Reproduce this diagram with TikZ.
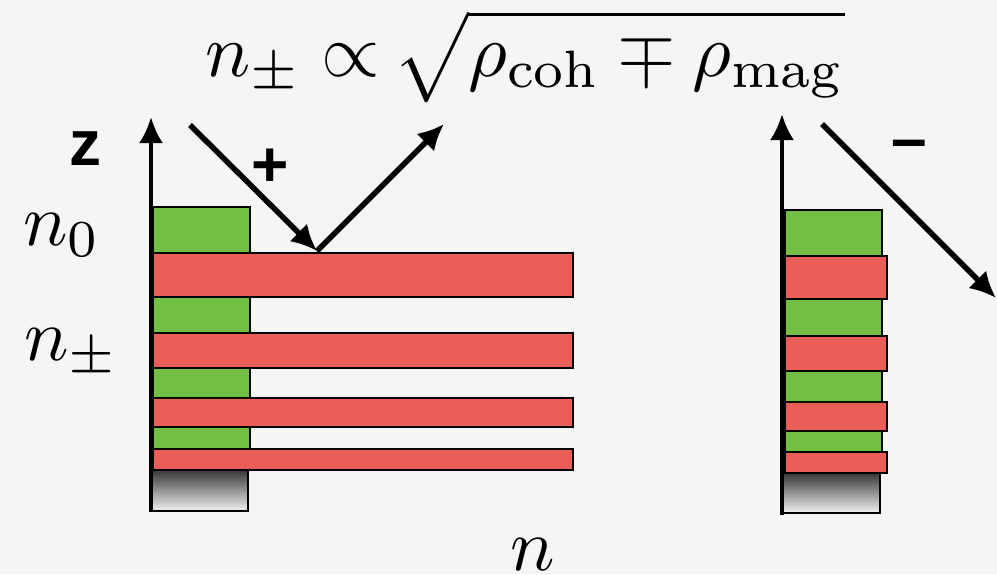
\documentclass[tikz,border=0pt]{standalone}
\usepackage{graphicx}
\usepackage{fontspec}
\newfontfamily\labfont{Liberation Sans}
\usetikzlibrary{arrows.meta}
\definecolor{bgc}{RGB}{245,245,245}
\definecolor{grn}{RGB}{114,191,68}
\definecolor{rd}{RGB}{235,94,88}
\definecolor{subtop}{RGB}{55,55,55}
\definecolor{subbot}{RGB}{242,242,242}
\newcommand{\bigmathlab}[2][7.4]{\scalebox{#1}{#2}}
\tikzset{
  layer/.style={draw=black, line width=1.8pt},
  glayer/.style={layer, fill=grn},
  rlayer/.style={layer, fill=rd},
  substrate/.style={draw=black, line width=1.8pt, top color=subtop, bottom color=subbot},
  axis/.style={line width=4pt, -{Latex[length=26pt,width=24pt]}},
  beam/.style={line width=5.5pt, -{Latex[length=26pt,width=25pt]}},
  mathlab/.style={inner sep=0pt, anchor=base west},
  sgn/.style={inner sep=0pt, font=\labfont\bfseries\fontsize{64}{70}\selectfont}
}
\begin{document}
\begin{tikzpicture}[x=1pt,y=-1pt]
\fill[bgc] (0,0) rectangle (997,574);
\useasboundingbox (0,0) rectangle (997,574);
% left stack
\draw[glayer] (153,207) rectangle (250,253);
\draw[glayer] (153,297) rectangle (250,333);
\draw[glayer] (153,368) rectangle (250,398);
\draw[glayer] (153,427) rectangle (250,449);
\draw[rlayer] (153,253) rectangle (573,297);
\draw[rlayer] (153,333) rectangle (573,368);
\draw[rlayer] (153,398) rectangle (573,427);
\draw[rlayer] (153,449) rectangle (573,470);
\draw[substrate] (150,470) rectangle (248,511);
% right stack
\draw[glayer] (785,210) rectangle (882,256);
\draw[glayer] (785,299) rectangle (882,336);
\draw[glayer] (785,371) rectangle (882,402);
\draw[glayer] (785,431) rectangle (882,452);
\draw[rlayer] (785,256) rectangle (887,299);
\draw[rlayer] (785,336) rectangle (887,371);
\draw[rlayer] (785,402) rectangle (887,431);
\draw[rlayer] (785,452) rectangle (887,473);
\draw[substrate] (783,473) rectangle (880,513);
% axes
\coordinate (lax0) at (151,511);
\coordinate (lax1) at (151,117);
\coordinate (rax0) at (782,515);
\coordinate (rax1) at (782,114);
\draw[axis] (lax0) -- (lax1);
\draw[axis] (rax0) -- (rax1);
% beams
\coordinate (pin) at (190,125);
\coordinate (hit) at (317,251);
\coordinate (pout) at (444,124);
\coordinate (min0) at (822,124);
\coordinate (min1) at (996,298);
\draw[beam] (pin) -- (hit);
\draw[beam, line cap=butt] (hit) -- (pout);
\draw[beam] (min0) -- (min1);
% labels
\node[sgn] (zlab) at (85,149) {z};
\node[sgn] (plus) at (270,168) {+};
\node[sgn] (minus) at (909,150) {–};
\node[mathlab] (n0) at (23,245) {\bigmathlab{$n_0$}};
\node[mathlab] (npm) at (24,360) {\bigmathlab{$n_\pm$}};
\node[mathlab] (nax) at (510,570) {\bigmathlab{$n$}};
\node[mathlab] (formula) at (205,76) {\bigmathlab[7.52]{$\displaystyle n_\pm \propto \mskip-2mu \sqrt{\rho_{\mathrm{coh}} \mp \rho_{\mathrm{mag}}}$}};
\end{tikzpicture}
\end{document}
